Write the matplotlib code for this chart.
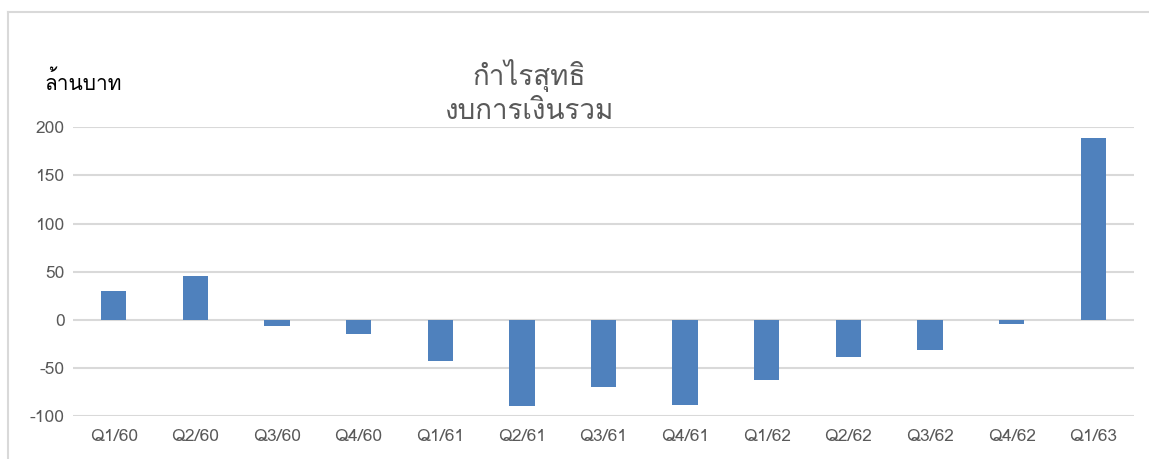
import matplotlib
matplotlib.use("Agg")
import matplotlib.pyplot as plt
from matplotlib import font_manager, ft2font
from matplotlib.lines import Line2D

# ข้อมูล (ล้านบาท)
quarters = ["Q1/60", "Q2/60", "Q3/60", "Q4/60", "Q1/61", "Q2/61", "Q3/61",
            "Q4/61", "Q1/62", "Q2/62", "Q3/62", "Q4/62", "Q1/63"]
net_profit = [30, 46, -6, -14, -42, -89, -69, -88, -62, -38, -31, -4, 189]
y_ticks = [-100, -50, 0, 50, 100, 150, 200]

title_text = "กำไรสุทธิ\nงบการเงินรวม"
unit_text = "ล้านบาท"


def thai_font():
    # หาฟอนต์ที่มีอักษรไทย
    for f in font_manager.fontManager.ttflist:
        try:
            cmap = ft2font.FT2Font(f.fname).get_charmap()
        except Exception:
            continue
        if 0x0E01 in cmap and 0x0E33 in cmap:
            return f.name
    return "DejaVu Sans"


fam = [thai_font(), "DejaVu Sans"]
plt.rcParams["font.family"] = fam

fig = plt.figure(figsize=(11.49, 4.59), dpi=100)
ax = fig.add_axes([0.0635, 0.0926, 0.9235, 0.6307])

x = list(range(len(quarters)))
ax.bar(x, net_profit, width=0.31, color="#4f81bd", zorder=3)

ax.set_xlim(-0.5, len(quarters) - 0.5)
ax.set_ylim(-100, 200)
ax.set_yticks(y_ticks)
ax.set_yticklabels([str(v) for v in y_ticks])
ax.set_xticks(x)
ax.set_xticklabels(quarters)
ax.grid(axis="y", color="#d9d9d9", linewidth=1.5, zorder=0)
ax.tick_params(length=0, labelsize=12.5, labelcolor="#595959")
ax.tick_params(axis="x", pad=9)
ax.tick_params(axis="y", pad=6)
for s in ax.spines.values():
    s.set_visible(False)

fig.text(0.461, 0.80, title_text, ha="center", va="center", fontsize=20,
         color="#595959", linespacing=1.35)
fig.text(0.039, 0.82, unit_text, ha="left", va="center", fontsize=15,
         color="#000000")

# กรอบของแผนภูมิ
fig.add_artist(Line2D([8 / 1149, 8 / 1149], [0, 1 - 12 / 459],
                      transform=fig.transFigure, color="#d9d9d9", linewidth=1.5))
fig.add_artist(Line2D([8 / 1149, 1], [1 - 12 / 459, 1 - 12 / 459],
                      transform=fig.transFigure, color="#d9d9d9", linewidth=1.5))

fig.savefig("out.png", dpi=100)
